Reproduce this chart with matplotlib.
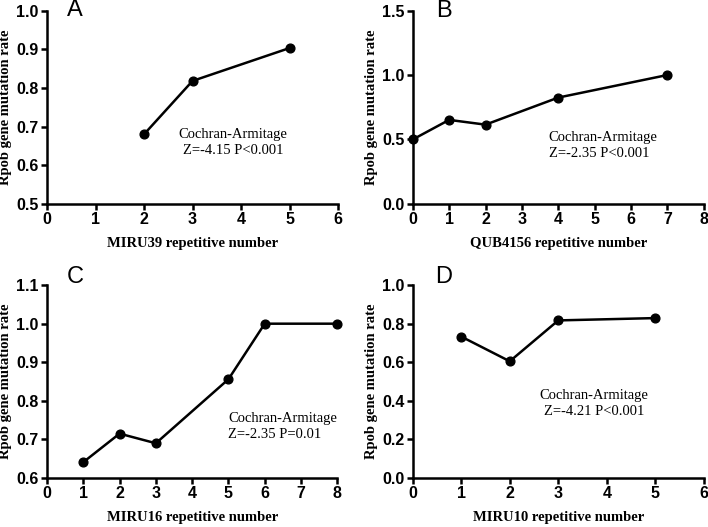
import numpy as np
import matplotlib.pyplot as plt

plt.rcParams['font.family'] = ['Liberation Sans', 'DejaVu Sans']
plt.rcParams['font.weight'] = 'bold'

# panel data
miru39_x = [2, 3, 5]
miru39_y = [0.680, 0.818, 0.903]

qub4156_x = [0, 1, 2, 4, 7]
qub4156_y = [0.50, 0.652, 0.615, 0.825, 1.00]

miru16_x = [1, 2, 3, 5, 6, 8]
miru16_y = [0.641, 0.715, 0.690, 0.856, 1.00, 1.00]

miru10_x = [1, 2, 3, 5]
miru10_y = [0.733, 0.605, 0.817, 0.829]

xlabels = ["MIRU39 repetitive number", "QUB4156 repetitive number",
           "MIRU16 repetitive number", "MIRU10 repetitive number"]
stats = ["Cochran-Armitage\nZ=-4.15 P<0.001", "Cochran-Armitage\nZ=-2.35 P<0.001",
         "Cochran-Armitage\nZ=-2.35 P=0.01", "Cochran-Armitage\nZ=-4.21 P<0.001"]
letters = ["A", "B", "C", "D"]

fig = plt.figure(figsize=(7.08, 5.27), dpi=100)

positions = [[0.0664, 0.613, 0.411, 0.367],
             [0.583, 0.613, 0.411, 0.367],
             [0.0664, 0.093, 0.410, 0.366],
             [0.583, 0.093, 0.411, 0.366]]

xs = [miru39_x, qub4156_x, miru16_x, miru10_x]
ys = [miru39_y, qub4156_y, miru16_y, miru10_y]
xlims = [(0, 6), (0, 8), (0, 8), (0, 6)]
yticks = [np.round(np.arange(0.5, 1.01, 0.1), 1),
          [0.0, 0.5, 1.0, 1.5],
          np.round(np.arange(0.6, 1.11, 0.1), 1),
          np.round(np.arange(0.0, 1.01, 0.2), 1)]
# text placement (axes fraction), alignment
txt_pos = [(0.64, 0.32, 'center'), (0.467, 0.30, 'left'),
           (0.624, 0.265, 'left'), (0.622, 0.385, 'center')]
letter_pos = [(0.096, 1.005), (0.107, 1.0), (0.097, 1.04), (0.107, 1.04)]

for i in range(4):
    ax = fig.add_axes(positions[i])
    ax.plot(xs[i], ys[i], color='black', lw=1.8, marker='o', ms=6.3, clip_on=False, zorder=3)
    ax.set_xlim(*xlims[i])
    ax.set_xticks(range(xlims[i][0], xlims[i][1] + 1))
    ax.set_yticks(yticks[i])
    ax.set_ylim(yticks[i][0], yticks[i][-1])
    ax.set_yticklabels([f"{v:.1f}" for v in yticks[i]])
    for s in ['top', 'right']:
        ax.spines[s].set_visible(False)
    for s in ['left', 'bottom']:
        ax.spines[s].set_linewidth(1.8)
    ax.tick_params(direction='out', length=4, width=1.8, pad=2, labelsize=11.5)
    ax.set_xlabel(xlabels[i], fontfamily='Liberation Serif', fontweight='bold', fontsize=10.5, labelpad=7)
    ax.set_ylabel("Rpob gene mutation rate", fontfamily='Liberation Serif', fontweight='bold',
                  fontsize=10.5, labelpad=3)
    tx, ty, ha = txt_pos[i]
    ax.text(tx, ty, stats[i], transform=ax.transAxes, ha=ha, va='center',
            fontfamily='Liberation Serif', fontweight='normal', fontsize=10.5, linespacing=1.3)
    lx, ly = letter_pos[i]
    ax.text(lx, ly, letters[i], transform=ax.transAxes, ha='center', va='center',
            fontweight='normal', fontsize=17)

fig.savefig("out.png", dpi=100)
